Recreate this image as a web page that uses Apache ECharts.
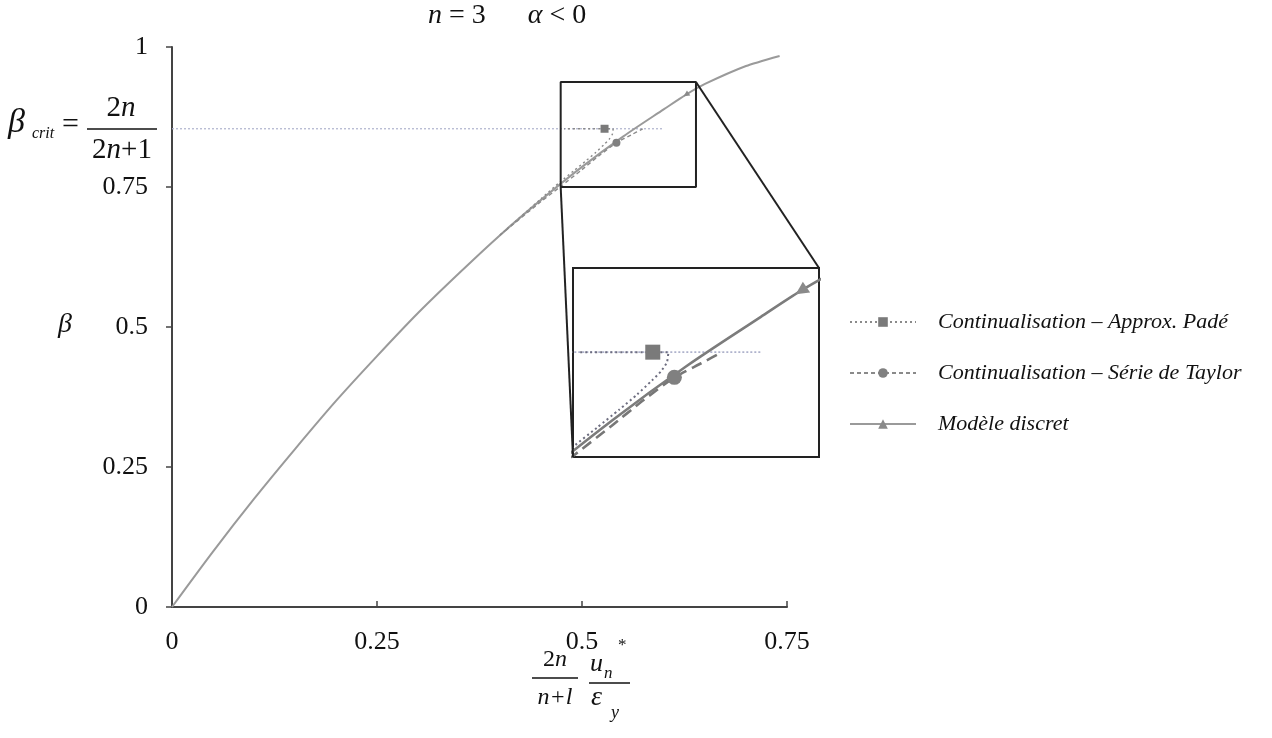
<!DOCTYPE html>
<html>
<head>
<meta charset="utf-8">
<script src="https://cdn.jsdelivr.net/npm/echarts@6/dist/echarts.min.js"></script>
<style>
html, body { margin: 0; padding: 0; background: #fff; }
#chart { width: 1272px; height: 738px; }
</style>
</head>
<body>
<div id="chart"></div>
<script>
// graduations des axes
const xTicks = [0, 0.25, 0.5, 0.75];
const yTicks = [0, 0.25, 0.5, 0.75, 1];
const betaCrit = 0.854; // 2n/(2n+1), n = 3
const critEnd = 0.60;

// modèle discret
const discretX = [0, 0.05, 0.1, 0.15, 0.2, 0.25, 0.3, 0.35, 0.4, 0.45, 0.5, 0.55, 0.6, 0.627, 0.65, 0.7, 0.741];
const discretY = [0, 0.099, 0.193, 0.282, 0.368, 0.448, 0.525, 0.596, 0.664, 0.727, 0.786, 0.840, 0.889, 0.915, 0.934, 0.966, 0.984];
const discretMark = 13;

// continualisation - approx. Padé
const padeX = [0.40, 0.45, 0.474, 0.49, 0.505, 0.517, 0.527, 0.533, 0.537, 0.538, 0.5275, 0.478];
const padeY = [0.664, 0.729, 0.760, 0.779, 0.797, 0.812, 0.826, 0.835, 0.844, 0.854, 0.854, 0.854];
const padeMark = 10;

// continualisation - série de Taylor
const taylorX = [0.40, 0.45, 0.474, 0.50, 0.52, 0.542, 0.56, 0.574];
const taylorY = [0.664, 0.724, 0.751, 0.781, 0.805, 0.829, 0.843, 0.854];
const taylorMark = 5;

// zone agrandie
const zoomX = [0.474, 0.639];
const zoomY = [0.75, 0.9375];

const names = ['Continualisation – Approx. Padé', 'Continualisation – Série de Taylor', 'Modèle discret'];
const serif = 'Liberation Serif';

function pts(xs, ys, mark, markItem) {
  let out = [];
  for (let i = 0; i < xs.length; i++) {
    if (i === mark) {
      out.push(Object.assign({ value: [xs[i], ys[i]] }, markItem));
    } else {
      out.push({ value: [xs[i], ys[i]], symbol: 'none' });
    }
  }
  return out;
}

function curves(ax, big) {
  let z0 = big ? 6 : 2;
  return [
    {
      type: 'line', xAxisIndex: ax, yAxisIndex: ax, silent: true, symbol: 'none',
      data: [[0, betaCrit], [critEnd, betaCrit]],
      lineStyle: { color: '#aeb2cc', width: big ? 1.6 : 1.2, type: [2, 2] },
      z: z0
    },
    {
      name: names[0], type: 'line', xAxisIndex: ax, yAxisIndex: ax,
      symbol: 'rect', symbolSize: big ? 15 : 8, showAllSymbol: true, smooth: 0.2,
      data: pts(padeX, padeY, padeMark, {}),
      lineStyle: { color: big ? '#6e6e80' : '#8a8a8a', width: big ? 2 : 1.4, type: [2, 3] },
      itemStyle: { color: '#7a7a7a' },
      z: z0 + 2
    },
    {
      name: names[1], type: 'line', xAxisIndex: ax, yAxisIndex: ax,
      symbol: 'circle', symbolSize: big ? 15 : 8, showAllSymbol: true, smooth: 0.2,
      data: pts(taylorX, taylorY, taylorMark, {}),
      lineStyle: { color: big ? '#777' : '#8a8a8a', width: big ? 2.6 : 1.4, type: big ? [11, 6] : [4, 3] },
      itemStyle: { color: '#808080' },
      z: z0 + 2
    },
    {
      name: names[2], type: 'line', xAxisIndex: ax, yAxisIndex: ax,
      symbol: 'triangle', symbolSize: big ? 13 : 6, showAllSymbol: true, smooth: 0.3,
      data: pts(discretX, discretY, discretMark, { symbolRotate: 124 }),
      lineStyle: { color: big ? '#7c7c7c' : '#9a9a9a', width: big ? 2.6 : 2 },
      itemStyle: { color: '#8a8a8a' },
      z: z0 + 1
    }
  ];
}

const ital = { fontFamily: serif, fontStyle: 'italic' };

let texts = [
  // titre
  { type: 'text', left: 428, top: 2, style: { text: '{i|n} = 3      {i|α} < 0', fontFamily: serif, fontSize: 28, fill: '#111',
    rich: { i: Object.assign({ fontSize: 28 }, ital) } } },
  // beta crit
  { type: 'text', left: 8, top: 106, style: { text: 'β', fontFamily: serif, fontStyle: 'italic', fontSize: 34, fill: '#111' } },
  { type: 'text', left: 32, top: 126, style: { text: 'crit', fontFamily: serif, fontStyle: 'italic', fontSize: 16, fill: '#111' } },
  { type: 'text', left: 62, top: 110, style: { text: '=', fontFamily: serif, fontSize: 30, fill: '#111' } },
  { type: 'text', x: 121, y: 108, style: { text: '2{i|n}', rich: { i: Object.assign({ fontSize: 29 }, ital) },
    fontFamily: serif, fontSize: 29, fill: '#111', align: 'center', verticalAlign: 'middle' } },
  { type: 'line', shape: { x1: 87, y1: 129, x2: 157, y2: 129 }, style: { stroke: '#111', lineWidth: 1.5 } },
  { type: 'text', x: 122, y: 150, style: { text: '2{i|n}+1', rich: { i: Object.assign({ fontSize: 29 }, ital) },
    fontFamily: serif, fontSize: 29, fill: '#111', align: 'center', verticalAlign: 'middle' } },
  // beta axe
  { type: 'text', left: 58, top: 311, style: { text: 'β', fontFamily: serif, fontStyle: 'italic', fontSize: 28, fill: '#111' } },
  // nom axe x
  { type: 'text', x: 555, y: 660, style: { text: '2{i|n}', rich: { i: Object.assign({ fontSize: 24 }, ital) },
    fontFamily: serif, fontSize: 24, fill: '#111', align: 'center', verticalAlign: 'middle' } },
  { type: 'line', shape: { x1: 532, y1: 678, x2: 578, y2: 678 }, style: { stroke: '#111', lineWidth: 1.5 } },
  { type: 'text', x: 555, y: 698, style: { text: 'n+l', fontFamily: serif, fontStyle: 'italic', fontSize: 24, fill: '#111', align: 'center', verticalAlign: 'middle' } },
  { type: 'text', x: 590, y: 651, style: { text: 'u', fontFamily: serif, fontStyle: 'italic', fontSize: 26, fill: '#111' } },
  { type: 'text', x: 604, y: 665, style: { text: 'n', fontFamily: serif, fontStyle: 'italic', fontSize: 17, fill: '#111' } },
  { type: 'text', x: 618, y: 637, style: { text: '*', fontFamily: serif, fontSize: 17, fill: '#111' } },
  { type: 'line', shape: { x1: 589, y1: 683, x2: 630, y2: 683 }, style: { stroke: '#111', lineWidth: 1.5 } },
  { type: 'text', x: 591, y: 684, style: { text: 'ε', fontFamily: serif, fontStyle: 'italic', fontSize: 28, fill: '#111' } },
  { type: 'text', x: 611, y: 704, style: { text: 'y', fontFamily: serif, fontStyle: 'italic', fontSize: 18, fill: '#111' } }
];

let series = curves(0, false).concat(curves(1, true));
// petit cadre dans le graphe principal
series.push({
  type: 'line', xAxisIndex: 0, yAxisIndex: 0, silent: true, symbol: 'none', clip: false,
  data: [[zoomX[0], zoomY[0]], [zoomX[1], zoomY[0]], [zoomX[1], zoomY[1]], [zoomX[0], zoomY[1]], [zoomX[0], zoomY[0]]],
  lineStyle: { color: '#222', width: 2 },
  z: 5
});

let axisStyle = { lineStyle: { color: '#444', width: 2 } };
let labelStyle = { fontFamily: serif, fontSize: 26, color: '#111' };

let option = {
  animation: false,
  backgroundColor: '#fff',
  grid: [
    { left: 172, top: 47, width: 615, height: 560 },
    { left: 573, top: 268, width: 246, height: 189, show: true, borderColor: '#222', borderWidth: 2, backgroundColor: '#fff' }
  ],
  xAxis: [
    {
      type: 'value', gridIndex: 0, min: xTicks[0], max: xTicks[xTicks.length - 1], interval: xTicks[1] - xTicks[0],
      axisLine: axisStyle, axisTick: { inside: true, length: 6, lineStyle: { color: '#444', width: 1.5 } },
      splitLine: { show: false }, axisLabel: Object.assign({ margin: 22 }, labelStyle)
    },
    { type: 'value', gridIndex: 1, min: zoomX[0], max: zoomX[1], show: false, splitLine: { show: false } }
  ],
  yAxis: [
    {
      type: 'value', gridIndex: 0, min: yTicks[0], max: yTicks[yTicks.length - 1], interval: yTicks[1] - yTicks[0],
      axisLine: axisStyle, axisTick: { length: 6, lineStyle: { color: '#444', width: 1.5 } },
      splitLine: { show: false }, axisLabel: Object.assign({ margin: 24 }, labelStyle)
    },
    { type: 'value', gridIndex: 1, min: zoomY[0], max: zoomY[1], show: false, splitLine: { show: false } }
  ],
  legend: {
    data: names, orient: 'vertical', left: 844, top: 305,
    itemWidth: 66, itemHeight: 12, itemGap: 27,
    textStyle: { fontFamily: serif, fontStyle: 'italic', fontSize: 22, color: '#111', padding: [0, 0, 0, 17], lineHeight: 24 }
  },
  graphic: texts,
  series: series
};

var myChart = echarts.init(document.getElementById('chart'));
myChart.setOption(option);

// traits reliant le petit cadre au grand
let a1 = myChart.convertToPixel({ gridIndex: 0 }, [zoomX[1], zoomY[1]]);
let b1 = myChart.convertToPixel({ gridIndex: 1 }, [zoomX[1], zoomY[1]]);
let a2 = myChart.convertToPixel({ gridIndex: 0 }, [zoomX[0], zoomY[0]]);
let b2 = myChart.convertToPixel({ gridIndex: 1 }, [zoomX[0], zoomY[0]]);
myChart.setOption({
  graphic: texts.concat([
    { type: 'line', shape: { x1: a1[0], y1: a1[1], x2: b1[0], y2: b1[1] }, style: { stroke: '#222', lineWidth: 2 }, z: 10 },
    { type: 'line', shape: { x1: a2[0], y1: a2[1], x2: b2[0], y2: b2[1] }, style: { stroke: '#222', lineWidth: 2 }, z: 10 }
  ])
});
</script>
</body>
</html>
